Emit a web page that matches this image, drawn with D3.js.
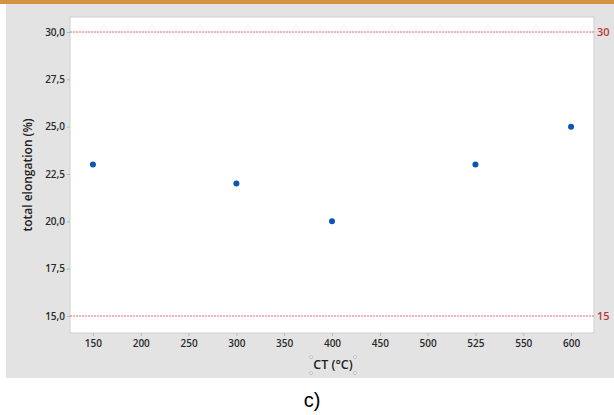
<!DOCTYPE html>
<html>
<head>
<meta charset="utf-8">
<script src="https://cdn.jsdelivr.net/npm/d3@7"></script>
<style>
  body { margin: 0; background: #fff; }
  svg { display: block; }
</style>
</head>
<body>
<svg id="chart" width="614" height="415"></svg>
<script>
// categories on the x axis (equally spaced, as in the original)
const xCats = ["150", "200", "250", "300", "350", "400", "450", "500", "525", "550", "600"];
// measured points
const ctVals = ["150", "300", "400", "525", "600"];
const elongVals = [23, 22, 20, 23, 25];
// y ticks and reference lines
const yTicks = [15, 17.5, 20, 22.5, 25, 27.5, 30];
const refLines = [30, 15];

const width = 614, height = 415;
const plot = { left: 70, right: 594, top: 17, bottom: 333 };

var svg = d3.select("#chart");

//background frame
svg.append("rect").attr("x", 0).attr("y", 0).attr("width", width).attr("height", 4).attr("fill", "#d49343");
svg.append("rect").attr("x", 6).attr("y", 4).attr("width", width - 6).attr("height", 374).attr("fill", "#e3e3e3");

//plot area
svg.append("rect")
  .attr("x", plot.left).attr("y", plot.top)
  .attr("width", plot.right - plot.left).attr("height", plot.bottom - plot.top)
  .attr("fill", "#fff").attr("stroke", "#cfcfcf").attr("stroke-width", 1);

//scales
var x = d3.scalePoint().domain(xCats).range([plot.left, plot.right]).padding(0.48);
var y = d3.scaleLinear().domain([15, 30]).range([316, 32]);

const fmt = (d) => d3.format(".1f")(d).replace(".", ",");

//y axis
var yAxis = svg.append("g")
  .attr("transform", `translate(${plot.left},0)`)
  .call(d3.axisLeft(y).tickValues(yTicks).tickFormat(fmt).tickSize(3).tickPadding(2));
yAxis.select(".domain").remove();
yAxis.selectAll(".tick line").attr("stroke", "#b8b8b8");
yAxis.selectAll(".tick text")
  .attr("fill", "#2a2a2a").style("font-family", "Open Sans").style("font-size", "10px").style("font-weight", 600);

//x axis
var xAxis = svg.append("g")
  .attr("transform", `translate(0,${plot.bottom})`)
  .call(d3.axisBottom(x).tickSize(3).tickPadding(4));
xAxis.select(".domain").remove();
xAxis.selectAll(".tick line").attr("stroke", "#b8b8b8");
xAxis.selectAll(".tick text")
  .attr("fill", "#2a2a2a").style("font-family", "Open Sans").style("font-size", "10px").style("font-weight", 600);

//reference lines
svg.selectAll(".ref")
  .data(refLines)
  .join("line")
  .attr("class", "ref")
  .attr("x1", plot.left).attr("x2", plot.right)
  .attr("y1", (d) => y(d)).attr("y2", (d) => y(d))
  .attr("stroke", "#e8686a").attr("stroke-width", 1).attr("stroke-dasharray", "2,1");

svg.selectAll(".refLabel")
  .data(refLines)
  .join("text")
  .attr("class", "refLabel")
  .attr("x", plot.right + 3).attr("y", (d) => y(d))
  .attr("dy", "0.35em")
  .attr("fill", "#b5393a")
  .style("font-family", "Open Sans").style("font-size", "11px").style("font-weight", 600)
  .text((d) => d);

//points
svg.selectAll(".pt")
  .data(ctVals)
  .join("circle")
  .attr("class", "pt")
  .attr("cx", (d) => x(d))
  .attr("cy", (d, i) => y(elongVals[i]))
  .attr("r", 3)
  .attr("fill", "#0a56b2");

//axis titles
svg.append("text")
  .attr("transform", "translate(32,175) rotate(-90)")
  .attr("text-anchor", "middle")
  .attr("fill", "#222")
  .style("font-family", "Open Sans").style("font-size", "12px").style("font-weight", 600)
  .text("total elongation (%)");

svg.append("text")
  .attr("x", 333).attr("y", 369)
  .attr("text-anchor", "middle")
  .attr("fill", "#222")
  .style("font-family", "Open Sans").style("font-size", "12.5px").style("font-weight", 600)
  .text("CT (°C)");

//little selection handles round the x title
var handles = [[311, 357], [355, 357], [311, 373], [355, 373]];
svg.selectAll(".handle")
  .data(handles)
  .join("circle")
  .attr("cx", (d) => d[0]).attr("cy", (d) => d[1])
  .attr("r", 1.5)
  .attr("fill", "#f2f2f2").attr("stroke", "#aaa").attr("stroke-width", 0.6);

//caption under the panel
svg.append("text")
  .attr("x", 312).attr("y", 407)
  .attr("text-anchor", "middle")
  .attr("fill", "#000")
  .style("font-family", "Liberation Sans").style("font-size", "20px")
  .text("c)");
</script>
</body>
</html>
